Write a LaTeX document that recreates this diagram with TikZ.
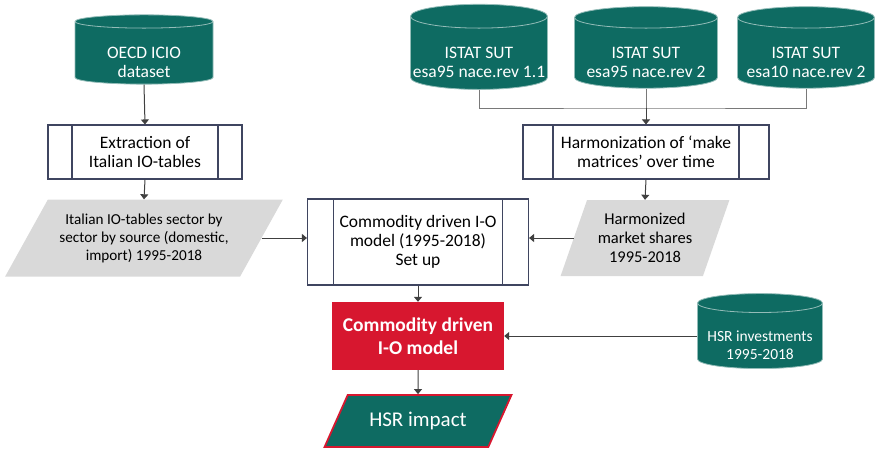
\documentclass[tikz,border=0pt]{standalone}
\usepackage{fontspec}
\setmainfont{Carlito}
\usetikzlibrary{shapes.geometric,arrows.meta}
\definecolor{dbteal}{HTML}{0E6B62}
\definecolor{modred}{HTML}{D7172F}
\definecolor{boxline}{HTML}{3F4560}
\definecolor{datagrey}{HTML}{D9D9D9}
\definecolor{flowgrey}{HTML}{404040}
\tikzset{
  datastore/.style={cylinder, shape border rotate=90, aspect=0.18, draw=white!55!dbteal, line width=0.8pt, fill=dbteal, text=white, align=center, font=\fontsize{17.5}{19}\selectfont, inner sep=0pt, text height=49pt, text depth=0pt},
  procbox/.style={draw=boxline, line width=1.1pt, fill=white, align=center, font=\fontsize{17.5}{19}\selectfont,
    path picture={\draw[boxline, line width=1.1pt] ([xshift=#1]path picture bounding box.north west) -- ([xshift=#1]path picture bounding box.south west)
      ([xshift=-#1]path picture bounding box.north east) -- ([xshift=-#1]path picture bounding box.south east);}},
  dataset/.style={trapezium, trapezium stretches=true, fill=datagrey, align=center, inner sep=0pt, font=\fontsize{16.5}{19}\selectfont},
  flow/.style={draw=flowgrey, line width=1pt, -{Triangle[length=5pt,width=8pt]}},
  merge/.style={draw=flowgrey!70, line width=0.9pt}
}
\begin{document}
\begin{tikzpicture}[x=1pt,y=-1pt]
\useasboundingbox (0,0) rectangle (877,448);
\node[datastore, minimum width=138pt, minimum height=69pt] (oecd) at (144,53) {OECD ICIO\\dataset};
\node[datastore, minimum width=137pt, minimum height=69pt] (sut1) at (479,53) {ISTAT SUT\\esa95 nace.rev 1.1};
\node[datastore, minimum width=143pt, minimum height=69pt] (sut2) at (646,53) {ISTAT SUT\\esa95 nace.rev 2};
\node[datastore, minimum width=137pt, minimum height=69pt] (sut3) at (806,53) {ISTAT SUT\\esa10 nace.rev 2};
\node[datastore, minimum width=125pt, minimum height=75pt, font=\fontsize{15.5}{18}\selectfont, text height=46pt] (hsrinv) at (760,336) {HSR investments\\1995-2018};
\node[procbox=24pt, minimum width=194pt, minimum height=54pt] (extract) at (145,152) {Extraction of\\Italian IO-tables};
\node[procbox=30pt, minimum width=246pt, minimum height=54pt] (harmon) at (646,152) {Harmonization of `make\\matrices' over time};
\node[procbox=26pt, minimum width=221pt, minimum height=86pt] (setup) at (418,242) {Commodity driven I-O\\model (1995-2018)\\Set up};
\node[dataset, trapezium left angle=52.5, trapezium right angle=127.5, minimum width=278pt, minimum height=77pt, font=\fontsize{15.2}{18}\selectfont] (italio) at (144,238) {Italian IO-tables sector by\\sector by source (domestic,\\import) 1995-2018};
\node[dataset, trapezium left angle=66.5, trapezium right angle=113.5, minimum width=169pt, minimum height=76pt] (shares) at (645,238) {Harmonized\\market shares\\1995-2018};
\node[fill=modred, text=white, minimum width=172pt, minimum height=68pt, align=center, font=\fontsize{19.5}{23}\selectfont\bfseries] (iomodel) at (418,336) {Commodity driven\\I-O model};
\node[trapezium, trapezium stretches=true, trapezium left angle=55, trapezium right angle=125, minimum width=187pt, minimum height=52pt, fill=dbteal, draw=modred, line width=1.8pt, text=white, font=\fontsize{21}{24}\selectfont] (impact) at (418,421) {HSR impact};
\draw[flow] (oecd.south) -- (extract.north);
\draw[flow] (extract.south) -- (italio.north);
\draw[merge] (sut1.south) |- (646,108) -| (sut3.south);
\draw[merge] (sut2.south) -- (646,108);
\draw[flow] (646,108) -- (harmon.north);
\draw[flow] (harmon.south) -- (shares.north);
\draw[flow] (italio.east) -- (italio.east -| setup.west);
\draw[flow] (shares.west) -- (shares.west -| setup.east);
\draw[flow] (setup.south) -- (iomodel.north);
\draw[flow] (hsrinv.west) -- (hsrinv.west -| iomodel.east);
\draw[flow] (iomodel.south) -- (impact.north);
\end{tikzpicture}
\end{document}
